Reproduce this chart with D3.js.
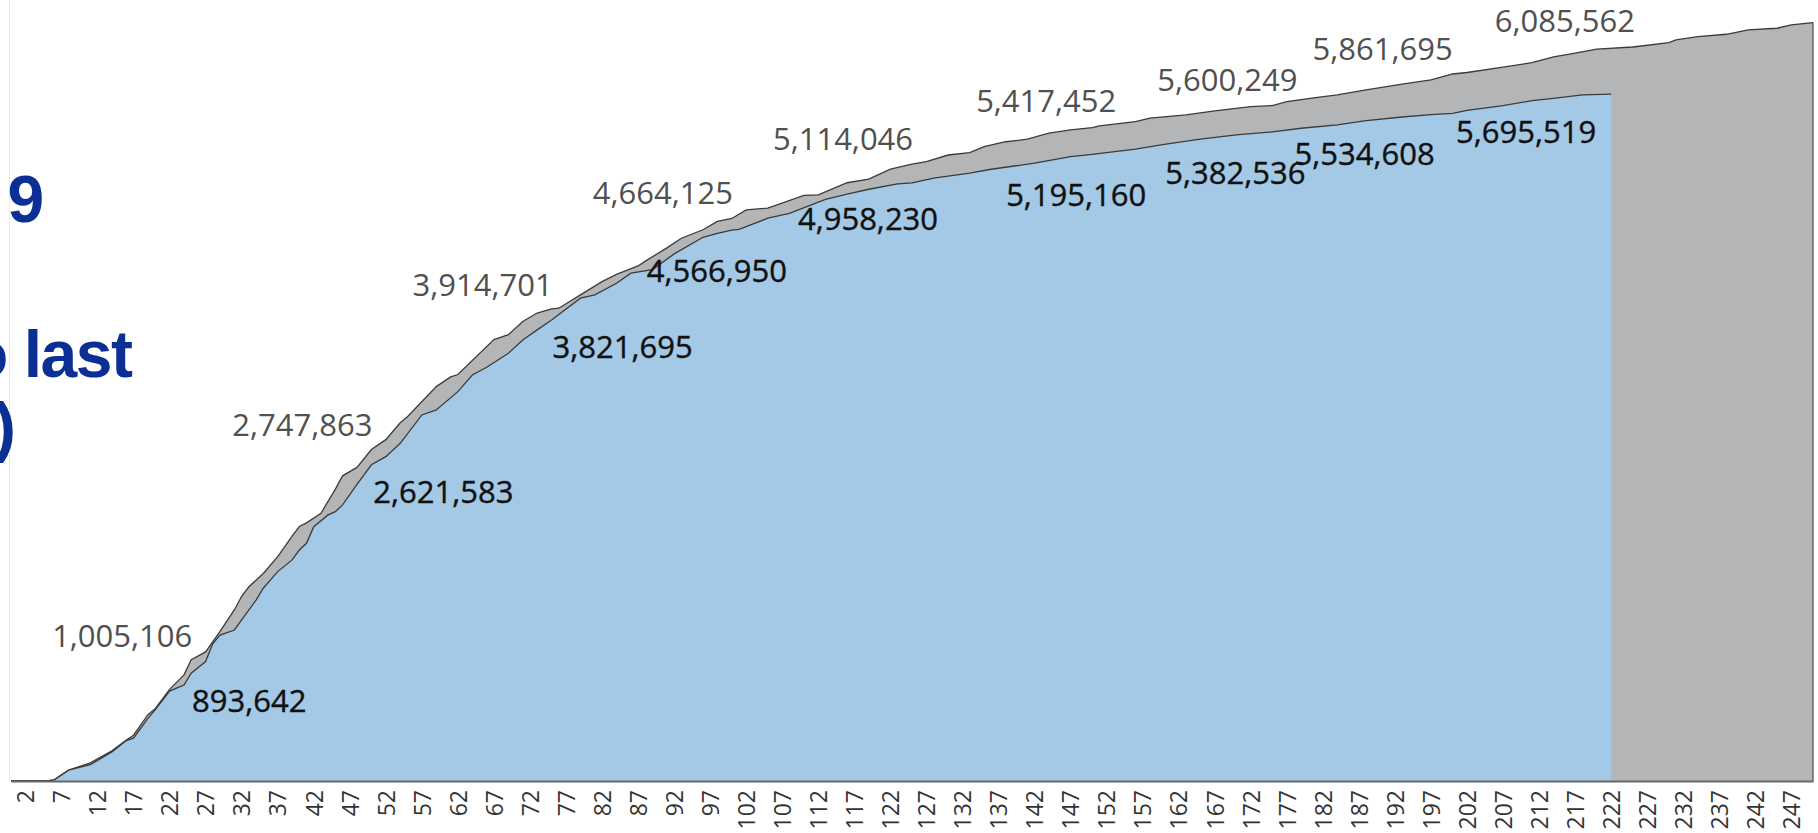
<!DOCTYPE html>
<html lang="en">
<head>
<meta charset="UTF-8" />
<title>cumulative</title>
<script src="https://cdn.jsdelivr.net/npm/d3@7"></script>
<style>
  body { margin: 0; background: #fff; }
  svg { display: block; }
</style>
</head>
<body>
<svg width="1818" height="833"></svg>
<script>
  // grey series (longer one, up to day 250)
  var greyDays = [0, 5, 6, 8, 11, 14, 16, 17, 19, 20, 22, 24, 25, 27, 29, 31, 32, 33, 35, 37, 39, 40, 41, 43, 45, 46, 48, 50,
    52, 54, 55, 59, 61, 62, 67, 69, 71, 73, 75, 76, 79, 82, 84, 87, 88, 91, 93, 96, 98, 100, 102, 105, 110, 112, 116, 119,
    122, 125, 127, 130, 133, 135, 138, 141, 144, 147, 150, 151, 156, 158, 163, 167, 172, 175, 177, 181, 184, 188, 193, 197,
    200, 202, 207, 211, 214, 217, 220, 225, 230, 231, 234, 238, 241, 245, 247, 250];
  var greyValues = [0, 0, 10000, 90000, 150000, 250000, 340000, 380000, 550000, 600000, 760000, 880000, 1005106, 1070000,
    1240000, 1420000, 1530000, 1610000, 1720000, 1860000, 2030000, 2110000, 2140000, 2220000, 2420000, 2530000, 2600000,
    2747863, 2830000, 2970000, 3020000, 3270000, 3350000, 3370000, 3660000, 3700000, 3810000, 3880000, 3914701, 3920000,
    4030000, 4140000, 4200000, 4270000, 4310000, 4420000, 4500000, 4570000, 4640000, 4664125, 4735000, 4750000, 4855000,
    4860000, 4960000, 4990000, 5072000, 5114046, 5136000, 5190000, 5210000, 5260000, 5300000, 5321000, 5371000, 5398000,
    5417452, 5431000, 5467000, 5495000, 5522000, 5556000, 5591000, 5600249, 5633000, 5666000, 5688000, 5730000, 5777000,
    5813000, 5861695, 5874000, 5918000, 5956000, 6003000, 6034000, 6067000, 6085562, 6122000, 6144000, 6172000, 6191000,
    6227000, 6241000, 6269000, 6288000];

  // blue series (up to day 222)
  var blueDays = [0, 5, 6, 8, 11, 14, 16, 17, 19, 20, 22, 24, 25, 27, 28, 29, 31, 32, 34, 35, 37, 39, 40, 41, 42, 44, 45, 46,
    48, 50, 52, 54, 57, 59, 62, 64, 66, 69, 71, 73, 75, 79, 81, 84, 86, 89, 92, 96, 98, 100, 101, 105, 108, 113, 116, 119,
    123, 125, 128, 133, 136, 142, 147, 150, 156, 160, 165, 170, 175, 179, 184, 188, 193, 197, 200, 202, 207, 211, 214, 218, 222];
  var blueValues = [0, 0, 10000, 90000, 135000, 240000, 335000, 355000, 520000, 589000, 745000, 796000, 893642, 990000,
    1140000, 1210000, 1252000, 1335000, 1500000, 1598000, 1736000, 1833000, 1915000, 1971000, 2109000, 2206000, 2233000,
    2289000, 2460000, 2621583, 2689000, 2800000, 3035000, 3076000, 3228000, 3366000, 3430000, 3546000, 3657000, 3740000,
    3821695, 4003000, 4030000, 4127000, 4210000, 4240000, 4370000, 4508000, 4541000, 4566950, 4574000, 4666000, 4707000,
    4823000, 4865000, 4906000, 4950000, 4958230, 4998000, 5039000, 5072000, 5122000, 5177000, 5195160, 5238000, 5279000,
    5321000, 5357000, 5382536, 5412000, 5439000, 5475000, 5505000, 5525000, 5534608, 5560000, 5600000, 5640000, 5660000,
    5688000, 5695519];

  // labelled points
  var greyLabelDays = [25, 50, 75, 100, 125, 150, 175, 200, 225];
  var greyLabels = [1005106, 2747863, 3914701, 4664125, 5114046, 5417452, 5600249, 5861695, 6085562];
  var blueLabelDays = [25, 50, 75, 100, 125, 150, 175, 200, 222];
  var blueLabels = [893642, 2621583, 3821695, 4566950, 4958230, 5195160, 5382536, 5534608, 5695519];

  var tickDays = [2, 7, 12, 17, 22, 27, 32, 37, 42, 47, 52, 57, 62, 67, 72, 77, 82, 87, 92, 97, 102, 107, 112, 117, 122,
    127, 132, 137, 142, 147, 152, 157, 162, 167, 172, 177, 182, 187, 192, 197, 202, 207, 212, 217, 222, 227, 232, 237, 242, 247];

  // label placement (centre offset from point, px)
  var greyLabelOffsets = [[-69, -24], [-69, -25], [-69, -24], [-69, -25], [-69, -25], [-46, -27], [-45, -26], [-70, -25], [-68, -26]];
  var blueLabelOffsets = [[58, 28], [72, 27], [71, 27], [-15, 41], [-44, 36], [-16, 41], [-37, 41], [-88, 41], [-85, 38]];

  var svg = d3.select('svg');

  var x = d3.scaleLinear().domain([0, 250]).range([11, 1813]);
  var y = d3.scaleLinear().domain([0, 6500000]).range([781, -3]);

  // pane left border
  svg.append('line')
    .attr('x1', 9.5).attr('x2', 9.5).attr('y1', 0).attr('y2', 781)
    .attr('stroke', '#ebebeb');

  var area = d3.area()
    .x(function (d) { return x(d[0]); })
    .y0(y(0))
    .y1(function (d) { return y(d[1]); });
  var line = d3.line()
    .x(function (d) { return x(d[0]); })
    .y(function (d) { return y(d[1]); });

  var greyData = greyDays.map(function (d, i) { return [d, greyValues[i]]; });
  var blueData = blueDays.map(function (d, i) { return [d, blueValues[i]]; });

  // grey area
  svg.append('path').datum(greyData).attr('d', area).attr('fill', '#b3b5b6');
  svg.append('path').datum(greyData).attr('d', line)
    .attr('fill', 'none').attr('stroke', '#3b3b3b').attr('stroke-width', 1.3);
  var gLast = greyData[greyData.length - 1];
  svg.append('line')
    .attr('x1', x(gLast[0])).attr('x2', x(gLast[0]))
    .attr('y1', y(gLast[1])).attr('y2', y(0))
    .attr('stroke', '#555').attr('stroke-width', 1.3);

  // blue area on top
  svg.append('path').datum(blueData).attr('d', area).attr('fill', '#a4c9e6');
  svg.append('path').datum(blueData).attr('d', line)
    .attr('fill', 'none').attr('stroke', '#3b3b3b').attr('stroke-width', 1.3);

  // x axis
  var axisX = d3.axisBottom(x)
    .tickValues(tickDays)
    .tickSize(0)
    .tickSizeOuter(0)
    .tickFormat(d3.format('d'));
  var gx = svg.append('g').attr('transform', 'translate(0,781)').call(axisX);
  gx.select('.domain').attr('stroke', '#666').attr('stroke-width', 2);
  gx.selectAll('text')
    .attr('transform', 'rotate(-90)')
    .attr('text-anchor', 'end')
    .attr('x', -9)
    .attr('y', 0)
    .attr('dy', '0.36em')
    .attr('font-family', "'Open Sans', sans-serif")
    .attr('font-size', 23)
    .attr('fill', '#333');

  // value labels
  svg.append('g').selectAll('text')
    .data(greyLabels)
    .enter().append('text')
    .attr('x', function (d, i) { return x(greyLabelDays[i]) + greyLabelOffsets[i][0]; })
    .attr('y', function (d, i) { return y(d) + greyLabelOffsets[i][1] + 11; })
    .attr('text-anchor', 'middle')
    .attr('font-family', "'Open Sans', sans-serif")
    .attr('font-size', 31)
    .attr('fill', '#505050')
    .text(function (d) { return d3.format(',')(d); });

  svg.append('g').selectAll('text')
    .data(blueLabels)
    .enter().append('text')
    .attr('x', function (d, i) { return x(blueLabelDays[i]) + blueLabelOffsets[i][0]; })
    .attr('y', function (d, i) { return y(d) + blueLabelOffsets[i][1] + 11; })
    .attr('text-anchor', 'middle')
    .attr('font-family', "'Open Sans', sans-serif")
    .attr('font-size', 31)
    .attr('fill', '#111')
    .attr('stroke', '#111')
    .attr('stroke-width', 0.4)
    .text(function (d) { return d3.format(',')(d); });

  // title pieces, cut off at the left edge
  var title = svg.append('g')
    .attr('font-family', "'Liberation Sans', Arial, sans-serif")
    .attr('font-weight', 'bold')
    .attr('font-size', 66)
    .attr('fill', '#0b2f94');
  title.append('text').attr('x', 7.5).attr('y', 222).text('9');
  title.append('text').attr('x', -32).attr('y', 377)
    .attr('letter-spacing', -1.5).text('o last');
  title.append('text').attr('x', -6).attr('y', 449).text(')');
</script>
</body>
</html>
